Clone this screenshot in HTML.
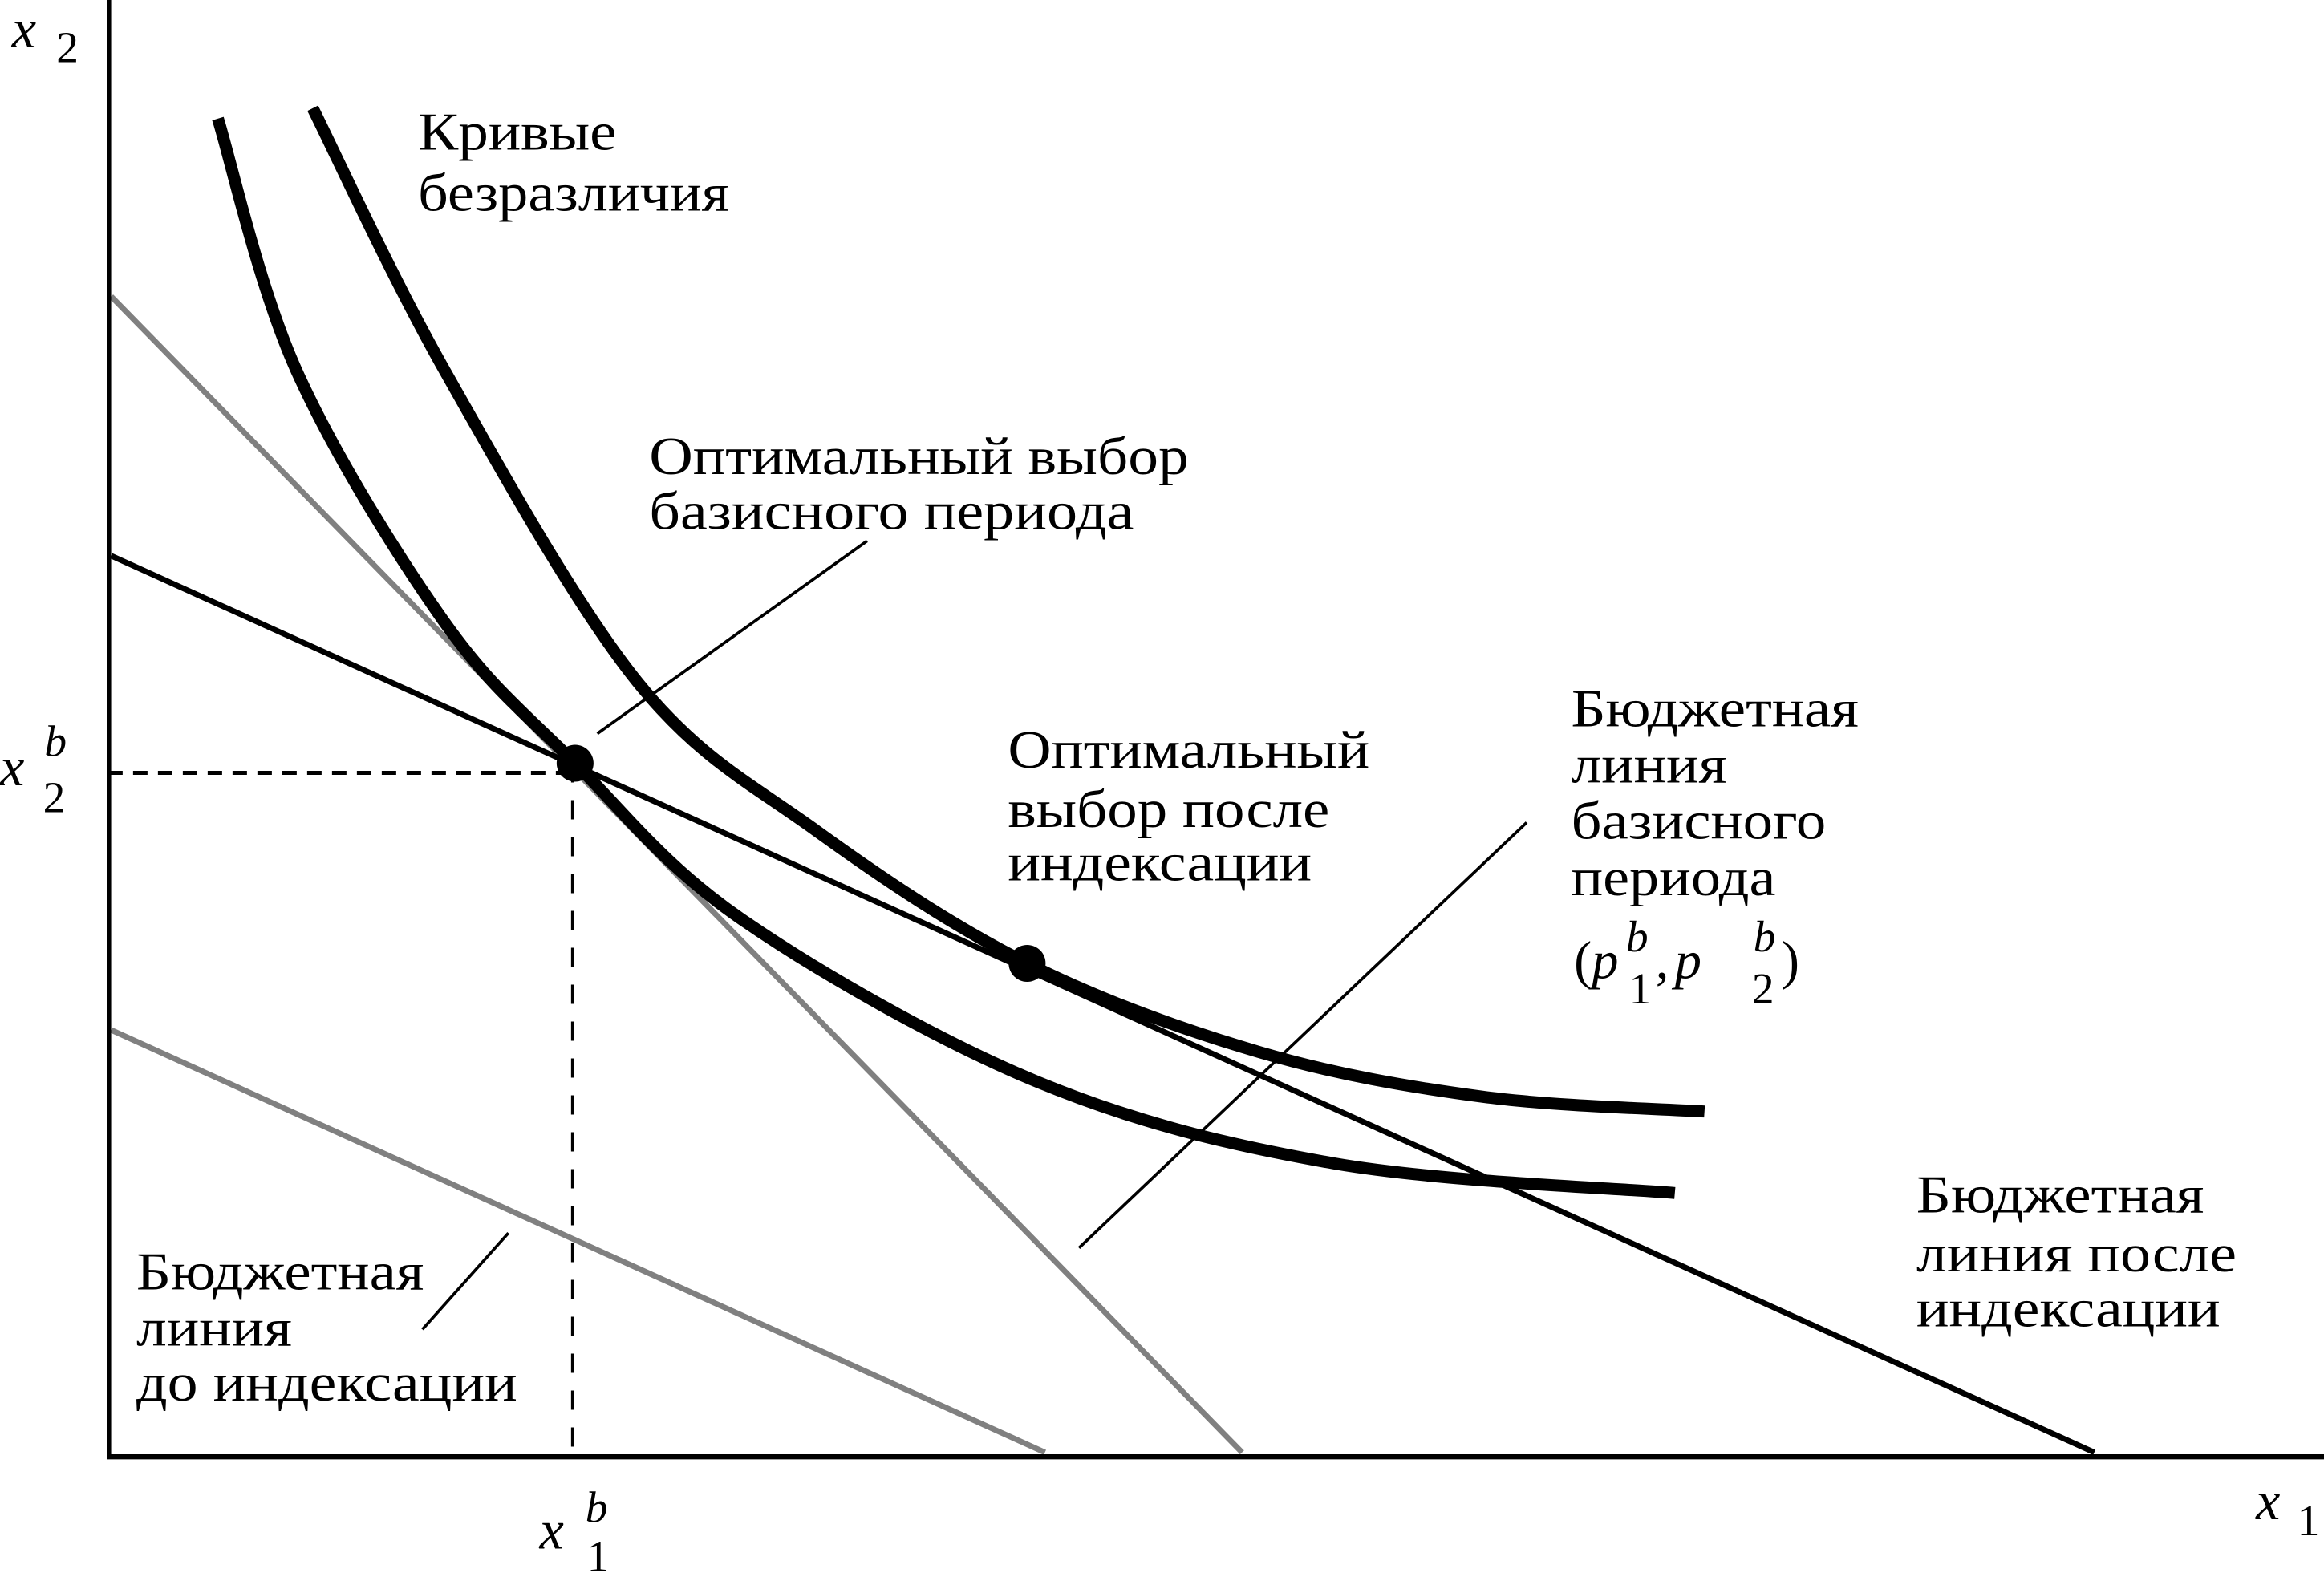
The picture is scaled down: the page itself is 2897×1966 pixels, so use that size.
<!DOCTYPE html>
<html><head><meta charset="utf-8"><style>
html,body{margin:0;padding:0;background:#fff;}
svg{display:block;}
text{font-family:"Liberation Serif","DejaVu Serif",serif;fill:#000;}
</style></head><body>
<svg id="chart" width="2897" height="1966" viewBox="0 0 2897 1966" xmlns="http://www.w3.org/2000/svg">
<g id="marks"></g>
<g transform="scale(1.8476)">
  <line x1="73.5" y1="0" x2="73.5" y2="984" stroke="#000" stroke-width="3"/>
  <line x1="72" y1="983" x2="1568" y2="983" stroke="#000" stroke-width="3.5"/>
  <line x1="403" y1="495" x2="585" y2="365" stroke="#000" stroke-width="2"/>
  <line x1="728" y1="842" x2="1030" y2="555" stroke="#000" stroke-width="2"/>
  <line x1="285" y1="897" x2="343" y2="832" stroke="#000" stroke-width="2"/>

  <text x="8" y="32" font-size="37" font-style="italic">x</text>
  <text x="38" y="42" font-size="30">2</text>
  <text x="1522" y="1025" font-size="37" font-style="italic">x</text>
  <text x="1550" y="1036" font-size="30">1</text>
  <text x="0" y="530" font-size="37" font-style="italic">x</text>
  <text x="30" y="510" font-size="30" font-style="italic">b</text>
  <text x="29" y="548" font-size="30">2</text>
  <text x="364" y="1045" font-size="37" font-style="italic">x</text>
  <text x="395" y="1027" font-size="30" font-style="italic">b</text>
  <text x="396" y="1060" font-size="30">1</text>

  <g font-size="36">
    <text x="282" y="101" textLength="134" lengthAdjust="spacingAndGlyphs">Кривые</text>
    <text x="282" y="142" textLength="210" lengthAdjust="spacingAndGlyphs">безразличия</text>
  </g>
  <g font-size="36">
    <text x="438" y="320" textLength="364" lengthAdjust="spacingAndGlyphs">Оптимальный выбор</text>
    <text x="438" y="357" textLength="327" lengthAdjust="spacingAndGlyphs">базисного периода</text>
  </g>
  <g font-size="36">
    <text x="680" y="518" textLength="244" lengthAdjust="spacingAndGlyphs">Оптимальный</text>
    <text x="680" y="558" textLength="217" lengthAdjust="spacingAndGlyphs">выбор после</text>
    <text x="680" y="594" textLength="205" lengthAdjust="spacingAndGlyphs">индексации</text>
  </g>
  <g font-size="36">
    <text x="1060" y="490" textLength="194" lengthAdjust="spacingAndGlyphs">Бюджетная</text>
    <text x="1060" y="528" textLength="105" lengthAdjust="spacingAndGlyphs">линия</text>
    <text x="1060" y="566" textLength="172" lengthAdjust="spacingAndGlyphs">базисного</text>
    <text x="1060" y="604" textLength="138" lengthAdjust="spacingAndGlyphs">периода</text>
    <text x="1062" y="660">(<tspan font-style="italic">p</tspan></text>
    <text x="1097" y="642" font-size="30" font-style="italic">b</text>
    <text x="1099" y="677" font-size="30">1</text>
    <text x="1117" y="660">,</text>
    <text x="1130" y="660" font-style="italic">p</text>
    <text x="1183" y="642" font-size="30" font-style="italic">b</text>
    <text x="1182" y="677" font-size="30">2</text>
    <text x="1202" y="660">)</text>
  </g>
  <g font-size="36">
    <text x="1293" y="818" textLength="194" lengthAdjust="spacingAndGlyphs">Бюджетная</text>
    <text x="1293" y="858" textLength="216" lengthAdjust="spacingAndGlyphs">линия после</text>
    <text x="1293" y="895" textLength="205" lengthAdjust="spacingAndGlyphs">индексации</text>
  </g>
  <g font-size="36">
    <text x="92" y="870" textLength="194" lengthAdjust="spacingAndGlyphs">Бюджетная</text>
    <text x="92" y="908" textLength="105" lengthAdjust="spacingAndGlyphs">линия</text>
    <text x="92" y="945" textLength="257" lengthAdjust="spacingAndGlyphs">до индексации</text>
  </g>
</g>
</svg>
<script>
// Data in plot units (origin at axes intersection, y upward)
const innerCurveX = [74, 127, 227, 315, 427, 627, 827, 1057];
const innerCurveY = [903, 733, 563, 468, 363, 253, 198, 178];
const outerCurveX = [138, 227, 357, 477, 620, 777, 927, 1077];
const outerCurveY = [910, 733, 523, 423, 333, 273, 243, 233];
const baseBudgetX = [2, 765];
const baseBudgetY = [783, 3];
const beforeBudgetX = [2, 632];
const beforeBudgetY = [288, 3];
const indexedBudgetX = [2, 1340];
const indexedBudgetY = [608, 3];
const optimaX = [315, 620];
const optimaY = [468, 333];

const K = 1.8476;
function sx(v){ return (73 + v) * K; }
function sy(v){ return (983 - v) * K; }
const NS = 'http://www.w3.org/2000/svg';
const g = document.getElementById('marks');

function smoothPath(xs, ys){
  const p = xs.map((x,i)=>[sx(x), sy(ys[i])]);
  let d = 'M' + p[0][0] + ',' + p[0][1];
  for (let i=0;i<p.length-1;i++){
    const p0=p[Math.max(0,i-1)], p1=p[i], p2=p[i+1], p3=p[Math.min(p.length-1,i+2)];
    const c1=[p1[0]+(p2[0]-p0[0])/6, p1[1]+(p2[1]-p0[1])/6];
    const c2=[p2[0]-(p3[0]-p1[0])/6, p2[1]-(p3[1]-p1[1])/6];
    d += ' C'+c1[0]+','+c1[1]+' '+c2[0]+','+c2[1]+' '+p2[0]+','+p2[1];
  }
  return d;
}
function addLine(xs, ys, color, w, name){
  const l = document.createElementNS(NS,'line');
  l.setAttribute('x1', sx(xs[0])); l.setAttribute('y1', sy(ys[0]));
  l.setAttribute('x2', sx(xs[1])); l.setAttribute('y2', sy(ys[1]));
  l.setAttribute('stroke', color); l.setAttribute('stroke-width', w);
  
  
  g.appendChild(l);
}
function addCurve(xs, ys, name){
  const p = document.createElementNS(NS,'path');
  p.setAttribute('d', smoothPath(xs, ys));
  p.setAttribute('fill','none'); p.setAttribute('stroke','#000'); p.setAttribute('stroke-width', 15);
  
  
  g.appendChild(p);
}
addLine(baseBudgetX, baseBudgetY, '#808080', 7, 'base-budget-line');
addLine(beforeBudgetX, beforeBudgetY, '#808080', 7, 'before-indexation-budget-line');
addLine(indexedBudgetX, indexedBudgetY, '#000', 7, 'indexed-budget-line');
addCurve(innerCurveX, innerCurveY, 'indifference-curve-inner');
addCurve(outerCurveX, outerCurveY, 'indifference-curve-outer');

// dashed guides to base optimum
const h = document.createElementNS(NS,'line');
h.setAttribute('x1', sx(0)); h.setAttribute('y1', sy(optimaY[0]) + 12);
h.setAttribute('x2', sx(optimaX[0])); h.setAttribute('y2', sy(optimaY[0]) + 12);
h.setAttribute('stroke','#000'); h.setAttribute('stroke-width',5); h.setAttribute('stroke-dasharray','18 13');


g.appendChild(h);
const v = document.createElementNS(NS,'line');
v.setAttribute('x1', sx(optimaX[0]) - 3); v.setAttribute('y1', sy(optimaY[0]));
v.setAttribute('x2', sx(optimaX[0]) - 3); v.setAttribute('y2', sy(0));
v.setAttribute('stroke','#000'); v.setAttribute('stroke-width',4); v.setAttribute('stroke-dasharray','24 22');


g.appendChild(v);

optimaX.forEach((x,i)=>{
  const c = document.createElementNS(NS,'circle');
  c.setAttribute('cx', sx(x)); c.setAttribute('cy', sy(optimaY[i]));
  c.setAttribute('r', 23); c.setAttribute('fill','#000');
  
  
  g.appendChild(c);
});
</script>
</body></html>
